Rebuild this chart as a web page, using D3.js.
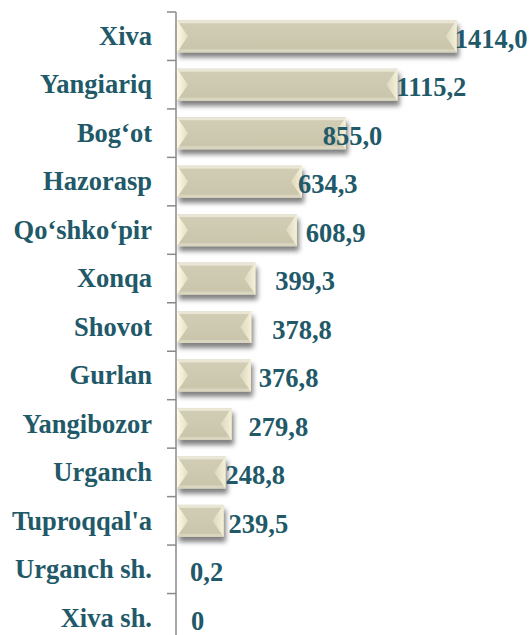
<!doctype html>
<html lang="en">
<head>
  <meta charset="utf-8">
  <script src="https://cdn.jsdelivr.net/npm/d3@7"></script>
</head>
<body style="margin:0">
<script>
  // data
  const districts = ['Xiva', 'Yangiariq', 'Bog\u2018ot ', 'Hazorasp', 'Qo\u2018shko\u2018pir', 'Xonqa', 'Shovot',
    'Gurlan', 'Yangibozor', 'Urganch', "Tuproqqal'a", 'Urganch sh.', 'Xiva sh.'];
  const values = [1414.0, 1115.2, 855.0, 634.3, 608.9, 399.3, 378.8, 376.8, 279.8, 248.8, 239.5, 0.2, 0];
  const valueLabels = ['1414,0', '1115,2', '855,0', '634,3', '608,9', '399,3', '378,8', '376,8',
    '279,8', '248,8', '239,5', '0,2', '0'];

  // hand-placed label nudges (px from bar end), like in the original sheet
  const labelNudge = [-2, -1, -23, -4, 9, 20, 21, 8, 17, 0, 5, 14, 15];

  const W = 531, H = 635;
  const axisX = 176;
  const fs = 26.5;

  const svg = d3.select('body').append('svg').attr('width', W).attr('height', H);

  const defs = svg.append('defs');

  // shadow under bars
  const f = defs.append('filter').attr('id', 'shadow')
    .attr('x', '-10%').attr('y', '-30%').attr('width', '130%').attr('height', '170%');
  f.append('feGaussianBlur').attr('in', 'SourceAlpha').attr('stdDeviation', 2.6);
  f.append('feOffset').attr('dx', 2).attr('dy', 5);
  f.append('feComponentTransfer').append('feFuncA').attr('type', 'linear').attr('slope', 0.5);
  const mg = f.append('feMerge');
  mg.append('feMergeNode');
  mg.append('feMergeNode').attr('in', 'SourceGraphic');

  const gFace = defs.append('linearGradient').attr('id', 'face')
    .attr('x1', 0).attr('y1', 0).attr('x2', 0).attr('y2', 1);
  gFace.append('stop').attr('offset', '0%').attr('stop-color', '#d2ceb6');
  gFace.append('stop').attr('offset', '100%').attr('stop-color', '#c9c5ab');

  const gLeft = defs.append('linearGradient').attr('id', 'leftBevel')
    .attr('x1', 0).attr('y1', 0).attr('x2', 1).attr('y2', 0);
  gLeft.append('stop').attr('offset', '0%').attr('stop-color', '#fffbe4');
  gLeft.append('stop').attr('offset', '100%').attr('stop-color', '#e2ddc2');

  const gRight = defs.append('linearGradient').attr('id', 'rightBevel')
    .attr('x1', 1).attr('y1', 0).attr('x2', 0).attr('y2', 0);
  gRight.append('stop').attr('offset', '0%').attr('stop-color', '#f4f0d8');
  gRight.append('stop').attr('offset', '100%').attr('stop-color', '#dcd8bd');

  const xs = d3.scaleLinear().domain([0, 1600]).range([axisX, axisX + 317.6]);
  const ys = d3.scaleBand().domain(districts).range([12, 642])
    .paddingInner(0.34).paddingOuter(0.17);

  const rows = districts.map((d, i) => ({ name: d, v: values[i], label: valueLabels[i], nudge: labelNudge[i] }));

  // bars
  svg.append('g').selectAll('g')
    .data(rows.filter(d => xs(d.v) - axisX > 2))
    .enter().append('g')
    .attr('filter', 'url(#shadow)')
    .each(function(d) {
      const g = d3.select(this);
      const x0 = axisX + 1, x1 = xs(d.v);
      const y0 = ys(d.name), y1 = y0 + ys.bandwidth(), ym = (y0 + y1) / 2;
      const s = Math.min(11, (x1 - x0) / 2);
      g.append('rect').attr('x', x0).attr('y', y0).attr('width', x1 - x0).attr('height', y1 - y0)
        .attr('fill', 'url(#face)');
      g.append('rect').attr('x', x0).attr('y', y0).attr('width', x1 - x0).attr('height', 3)
        .attr('fill', '#e9e6d6');
      g.append('rect').attr('x', x0).attr('y', y1 - 3).attr('width', x1 - x0).attr('height', 3)
        .attr('fill', '#d9d5bf');
      g.append('path').attr('d', `M${x0},${y0}L${x0 + s},${ym}L${x0},${y1}Z`)
        .attr('fill', 'url(#leftBevel)');
      g.append('path').attr('d', `M${x1},${y0}L${x1 - s},${ym}L${x1},${y1}Z`)
        .attr('fill', 'url(#rightBevel)');
    });

  // axis line with ticks on band edges
  const axis = svg.append('g').attr('stroke', '#8a8a8a').attr('stroke-width', 1.5);
  axis.append('line').attr('x1', axisX).attr('x2', axisX).attr('y1', 12).attr('y2', 642);
  d3.range(districts.length + 1).forEach(i => {
    const ty = 12 + i * ys.step();
    axis.append('line').attr('x1', axisX - 9).attr('x2', axisX).attr('y1', ty).attr('y2', ty);
  });

  // category labels
  svg.selectAll('text.cat')
    .data(rows).enter().append('text')
    .attr('class', 'cat')
    .attr('x', 152)
    .attr('y', d => ys(d.name) + ys.bandwidth() / 2 + fs * 0.33)
    .attr('text-anchor', 'end')
    .attr('font-family', 'Liberation Serif').attr('font-weight', 'bold').attr('font-size', fs)
    .attr('fill', '#215968')
    .text(d => d.name);

  // value labels
  svg.selectAll('text.val')
    .data(rows).enter().append('text')
    .attr('class', 'val')
    .attr('x', d => xs(d.v) + d.nudge)
    .attr('y', d => ys(d.name) + ys.bandwidth() / 2 + fs * 0.33 + 3)
    .attr('font-family', 'Liberation Serif').attr('font-weight', 'bold').attr('font-size', fs)
    .attr('fill', '#215968')
    .text(d => d.label);
</script>
</body>
</html>
